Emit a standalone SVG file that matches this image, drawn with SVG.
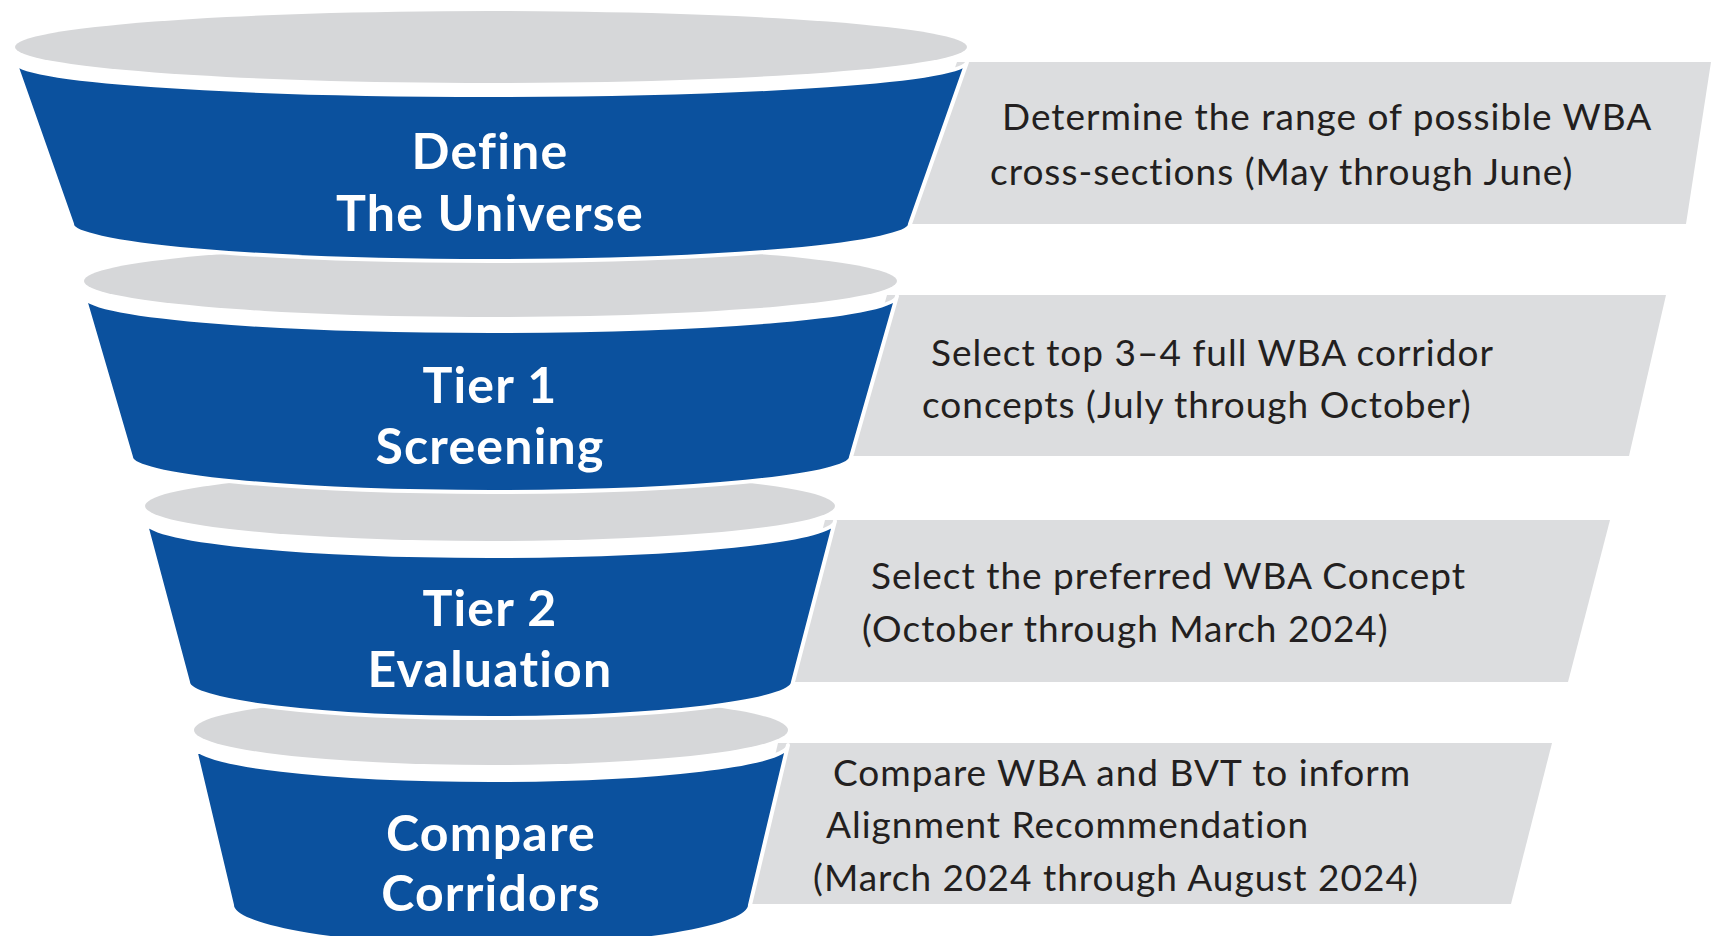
<svg xmlns="http://www.w3.org/2000/svg" width="1711" height="936" viewBox="0 0 1711 936">
<style>
.panel{fill:#dcdddf}
.rim{fill:#d6d7d9}
.bowl{fill:#0b519e;stroke:#ffffff;stroke-width:4;stroke-linejoin:round}
.lbl{font-family:Lato,"Open Sans",sans-serif;font-weight:700;font-size:50px;letter-spacing:1.2px;fill:#ffffff;text-anchor:middle}
.desc{font-family:Lato,"Open Sans",sans-serif;font-weight:400;font-size:37px;letter-spacing:1px;fill:#231f20}
</style>
<rect width="1711" height="936" fill="#ffffff"/>
<g id="stage-compare">
<polygon class="panel" points="778,743 1552,743 1511,904 740,904"/>
<ellipse class="rim" cx="491" cy="730" rx="297" ry="35"/>
<path class="bowl" d="M194,745 A297 35 0 0 0 788,745 L750,905 A259 42 0 0 1 232,905 Z"/>
<text class="lbl" x="491" y="851">Compare</text>
<text class="lbl" x="491" y="911">Corridors</text>
<text class="desc" x="833" y="786">Compare WBA and BVT to inform</text>
<text class="desc" x="826" y="838">Alignment Recommendation</text>
<text class="desc" x="813" y="891">(March 2024 through August 2024)</text>
</g>
<g id="stage-tier2">
<polygon class="panel" points="825,520 1610,520 1568,682 783,682"/>
<ellipse class="rim" cx="490" cy="506" rx="345" ry="35"/>
<path class="bowl" d="M145,521 A345 35 0 0 0 835,521 L793,682 A302.5 36 0 0 1 188,682 Z"/>
<text class="lbl" x="490" y="626">Tier 2</text>
<text class="lbl" x="490" y="687">Evaluation</text>
<text class="desc" x="871" y="589">Select the preferred WBA Concept</text>
<text class="desc" x="862" y="642">(October through March 2024)</text>
</g>
<g id="stage-tier1">
<polygon class="panel" points="887,295 1666,295 1629,456 841,456"/>
<ellipse class="rim" cx="490.5" cy="281" rx="406.5" ry="36"/>
<path class="bowl" d="M84,296 A406.5 35 0 0 0 897,296 L851,457 A360 35 0 0 1 131,457 Z"/>
<text class="lbl" x="490" y="403">Tier 1</text>
<text class="lbl" x="490" y="464">Screening</text>
<text class="desc" x="931" y="366">Select top 3–4 full WBA corridor</text>
<text class="desc" x="922" y="418">concepts (July through October)</text>
</g>
<g id="stage-define">
<polygon class="panel" points="957,62 1711,62 1686,224 900,224"/>
<ellipse class="rim" cx="491" cy="47" rx="476" ry="36"/>
<path class="bowl" d="M15,62 A476 33 0 0 0 967,62 L910,224 A419 37 0 0 1 72,224 Z"/>
<text class="lbl" x="490" y="169">Define</text>
<text class="lbl" x="490" y="231">The Universe</text>
<text class="desc" x="1002" y="130">Determine the range of possible WBA</text>
<text class="desc" x="990" y="185">cross-sections (May through June)</text>
</g>
</svg>
